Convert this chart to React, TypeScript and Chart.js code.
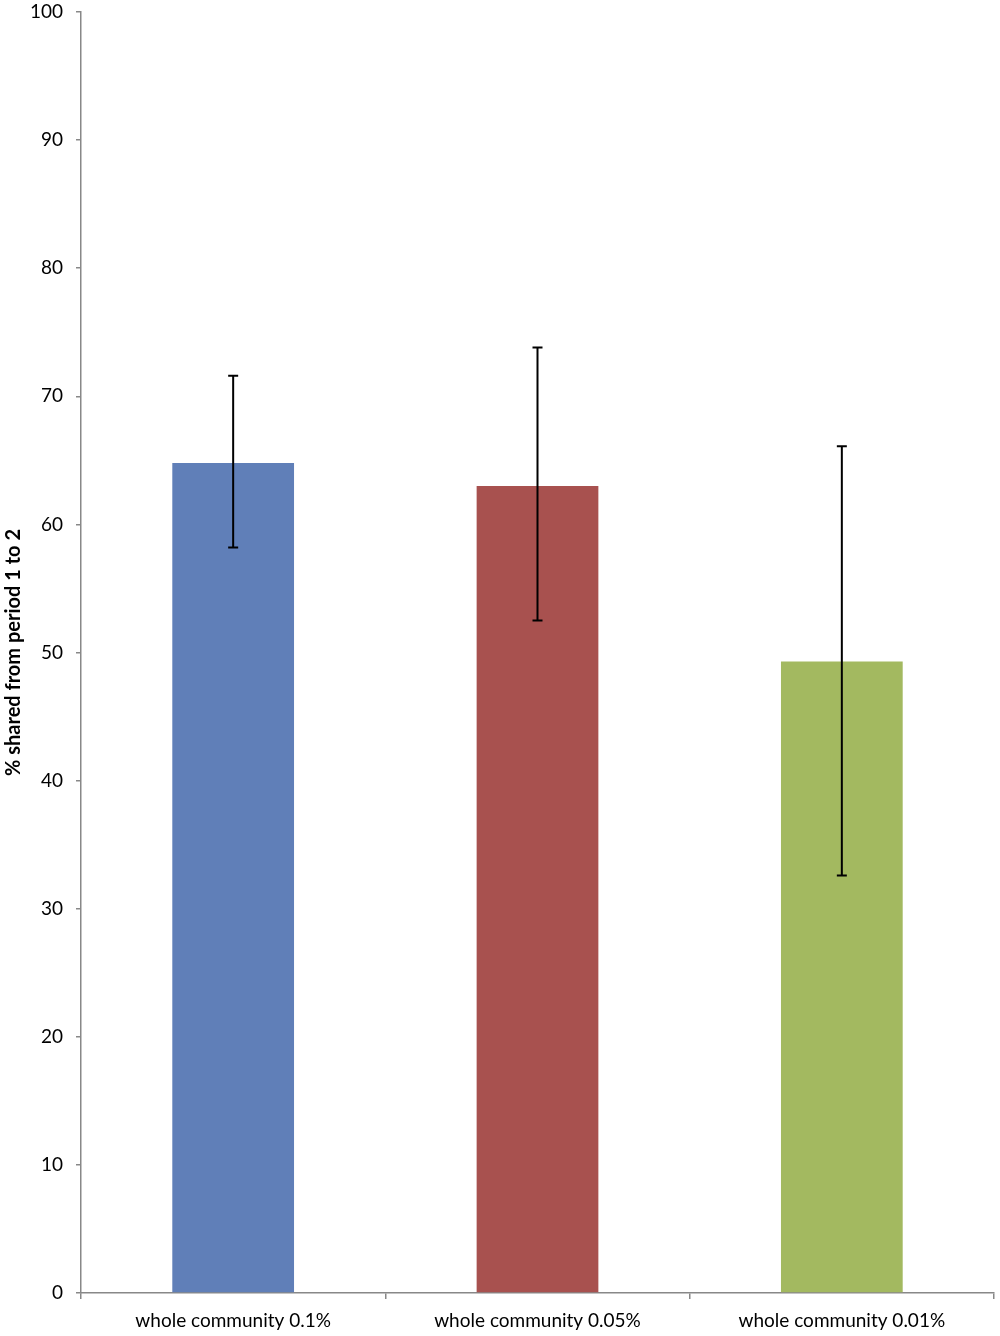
import { useEffect, useRef } from "react";
import { Chart, registerables, type ChartOptions, type Plugin } from "chart.js";

Chart.register(...registerables);

const categories = ["whole community 0.1%", "whole community 0.05%", "whole community 0.01%"];
const means = [64.8, 63.0, 49.3];
const errHigh = [71.6, 73.8, 66.1];
const errLow = [58.2, 52.5, 32.6];
const barColors = ["#607fb8", "#a8514f", "#a3b960"];
const yTicks = [0, 10, 20, 30, 40, 50, 60, 70, 80, 90, 100];

const FONT = "Lato, 'Open Sans', sans-serif";

const errorBars: Plugin<"bar"> = {
  id: "errorBars",
  afterDatasetsDraw(chart) {
    const { ctx } = chart;
    const y = chart.scales.y;
    const meta = chart.getDatasetMeta(0);
    ctx.save();
    ctx.strokeStyle = "#000";
    ctx.lineWidth = 2;
    meta.data.forEach((bar, i) => {
      const x = bar.x;
      const top = y.getPixelForValue(errHigh[i]);
      const bottom = y.getPixelForValue(errLow[i]);
      ctx.beginPath();
      ctx.moveTo(x, top);
      ctx.lineTo(x, bottom);
      ctx.moveTo(x - 5, top);
      ctx.lineTo(x + 5, top);
      ctx.moveTo(x - 5, bottom);
      ctx.lineTo(x + 5, bottom);
      ctx.stroke();
    });
    ctx.restore();
  }
};

export default function App() {
  const canvasRef = useRef<HTMLCanvasElement | null>(null);
  const chartRef = useRef<Chart | null>(null);

  useEffect(() => {
    if (!canvasRef.current) return;
    if (chartRef.current) chartRef.current.destroy();

    const options: ChartOptions<"bar"> = {
      responsive: true,
      maintainAspectRatio: false,
      animation: false,
      layout: { padding: { top: 12, right: 6, left: 0, bottom: 0 } },
      scales: {
        x: {
          offset: true,
          grid: { display: true, offset: true, drawOnChartArea: false, tickLength: 6, color: "#888", lineWidth: 1.5 },
          border: { display: true, color: "#888", width: 1.5 },
          ticks: { color: "#000", font: { family: FONT, size: 19 }, padding: 10 },
          afterFit: (s) => {
            s.height = 43;
            s.paddingLeft = 0;
            s.paddingRight = 0;
          }
        },
        y: {
          min: 0,
          max: 100,
          afterBuildTicks: (s) => {
            s.ticks = yTicks.map((v) => ({ value: v }));
          },
          grid: { display: true, drawOnChartArea: false, tickLength: 5, color: "#888", lineWidth: 1.5 },
          border: { display: true, color: "#888", width: 1.5 },
          ticks: { color: "#000", font: { family: FONT, size: 19 }, padding: 13 },
          title: {
            display: true,
            text: "% shared from period 1 to 2",
            color: "#000",
            font: { family: FONT, size: 20, weight: "bold" },
            padding: { top: 2, bottom: 0 }
          },
          afterFit: (s) => {
            s.width = 81;
            s.paddingTop = 0;
            s.paddingBottom = 0;
          }
        }
      },
      plugins: {
        legend: { display: false },
        tooltip: { enabled: false }
      }
    };

    chartRef.current = new Chart(canvasRef.current, {
      type: "bar",
      data: {
        labels: categories,
        datasets: [
          {
            data: means,
            backgroundColor: barColors,
            borderWidth: 0,
            barPercentage: 0.4,
            categoryPercentage: 1
          }
        ]
      },
      options,
      plugins: [errorBars]
    });

    return () => chartRef.current?.destroy();
  }, []);

  return (
    <div style={{ position: "absolute", left: 0, top: 0, width: 1000, height: 1336, background: "#fff" }}>
      <canvas ref={canvasRef} />
    </div>
  );
}
